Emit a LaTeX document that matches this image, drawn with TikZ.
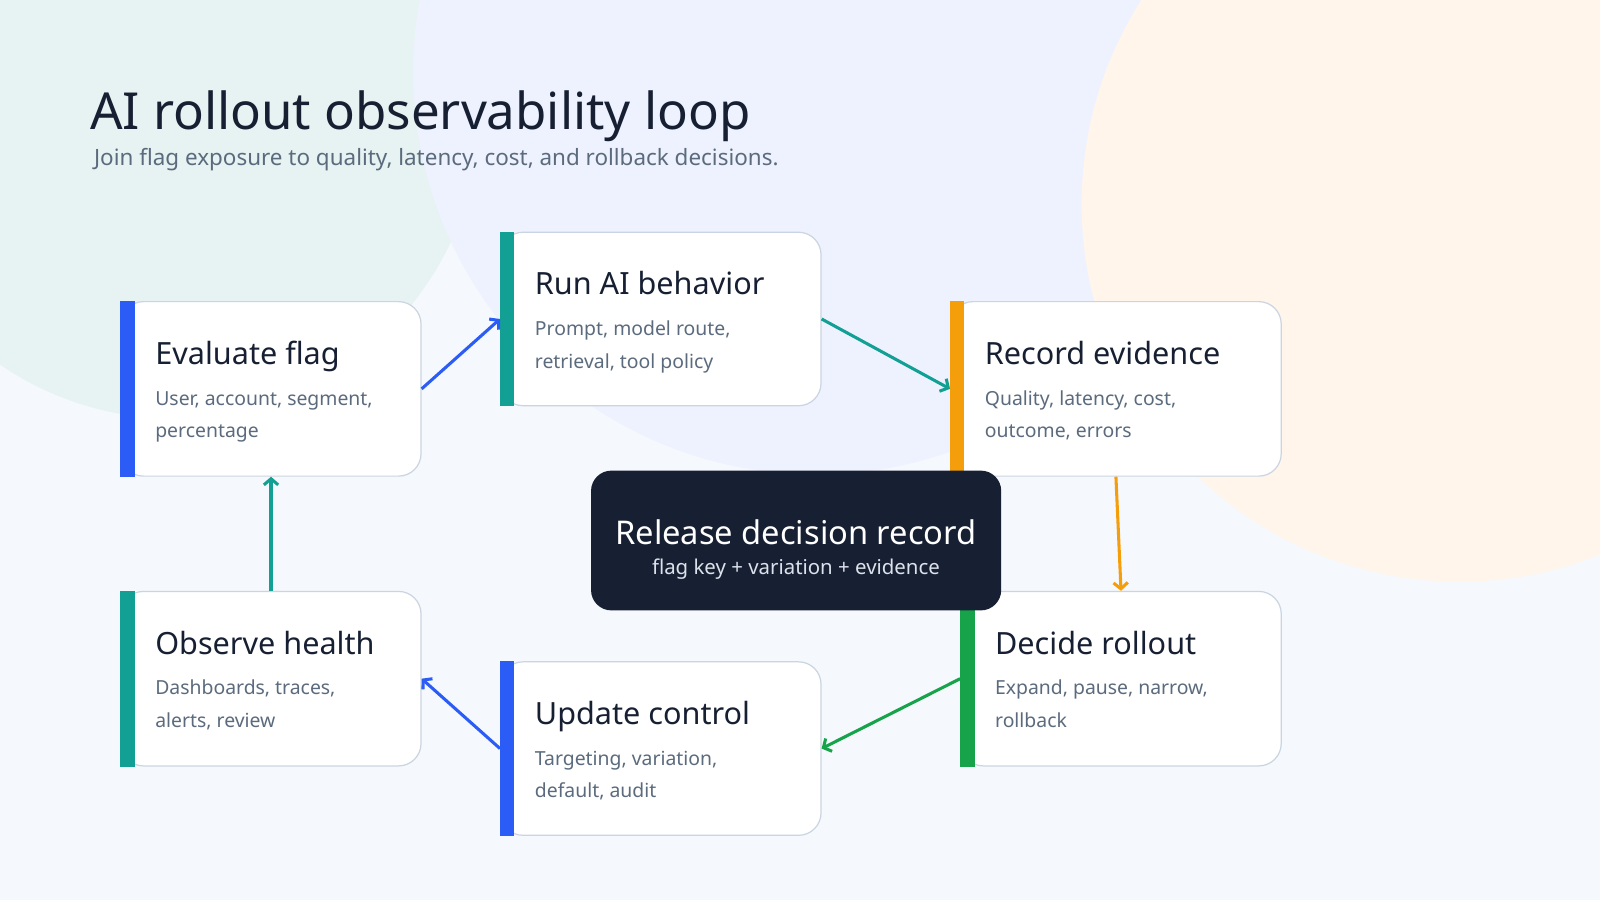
\documentclass[tikz,border=0pt]{standalone}
\usepackage{fontspec}
\setmainfont{Noto Sans}
\usetikzlibrary{positioning, arrows.meta}
\definecolor{inkdark}{HTML}{172033}
\definecolor{inkgray}{HTML}{5B6B7D}
\definecolor{edgegray}{HTML}{CBD5E1}
\definecolor{cblue}{HTML}{2B5CF6}
\definecolor{cteal}{HTML}{12A094}
\definecolor{corange}{HTML}{F59E0B}
\definecolor{cgreen}{HTML}{16A34A}
\definecolor{pagebg}{HTML}{F5F8FC}
\definecolor{blobteal}{HTML}{E7F3F2}
\definecolor{blobblue}{HTML}{EEF2FE}
\definecolor{blobpeach}{HTML}{FFF5EB}
\definecolor{softtext}{HTML}{DCE2EB}
\tikzset{
  card/.style = {draw=edgegray, line width=1.2pt, fill=white, rounded corners=22pt, inner sep=0pt},
  ctitle/.style = {anchor=base west, inner sep=0pt, text=inkdark, font=\fontsize{30}{34}\selectfont\bfseries},
  cbody/.style = {anchor=base west, inner sep=0pt, text=inkgray, font=\fontsize{19}{22}\selectfont},
  link/.style = {line width=3pt, -{Straight Barb[length=6pt,width=14pt]}}
}
% card: name, x, y, width, height, colour, title, line 1, line 2
\newcommand{\flowcard}[9]{%
  \node[card, minimum width=#4pt, minimum height=#5pt, anchor=north west] (#1) at (#2,#3) {};
  \fill[#6] (#1.north west) rectangle ([xshift=14pt]#1.south west);
  \node[ctitle] at (#2+34,#3+62) {#7};
  \node[cbody] at (#2+34,#3+102) {#8};
  \node[cbody] at (#2+34,#3+134) {#9};
}
\begin{document}
\begin{tikzpicture}[x=1pt, y=-1pt]
  \fill[pagebg] (0,0) rectangle (1568,882);
  \useasboundingbox (0,0) rectangle (1568,882);
  \begin{scope}
    \clip (0,0) rectangle (1568,882);
    \fill[blobteal] (170,110) circle (300);
    \fill[blobblue] (800,70) circle (395);
    \fill[blobpeach] (1430,200) circle (370);
  \end{scope}

  \node[anchor=base west, inner sep=0pt, text=inkdark, font=\fontsize{50}{56}\selectfont\bfseries] (title) at (88,127) {AI rollout observability loop};
  \node[anchor=base west, inner sep=0pt, text=inkgray, font=\fontsize{22}{26}\selectfont] (subtitle) at (92,162) {Join flag exposure to quality, latency, cost, and rollback decisions.};

  \flowcard{eval}{118}{295}{294}{171}{cblue}{Evaluate flag}{User, account, segment,}{percentage}
  \flowcard{run}{490}{227}{314}{170}{cteal}{Run AI behavior}{Prompt, model route,}{retrieval, tool policy}
  \flowcard{rec}{931}{295}{324}{171}{corange}{Record evidence}{Quality, latency, cost,}{outcome, errors}
  \flowcard{dec}{941}{579}{314}{171}{cgreen}{Decide rollout}{Expand, pause, narrow,}{rollback}
  \flowcard{upd}{490}{648}{314}{170}{cblue}{Update control}{Targeting, variation,}{default, audit}
  \flowcard{obs}{118}{579}{294}{171}{cteal}{Observe health}{Dashboards, traces,}{alerts, review}

  \node[fill=inkdark, rounded corners=20pt, minimum width=402pt, minimum height=137pt, anchor=north west, inner sep=0pt] (core) at (579,461) {};
  \node[text=white, font=\fontsize{32}{36}\selectfont\bfseries, inner sep=0pt] (coretitle) at (780,522) {Release decision record};
  \node[text=softtext, font=\fontsize{20}{24}\selectfont, inner sep=0pt] (coresub) at (780,558) {flag key + variation + evidence};

  \draw[link, cblue] (eval.east) -- (run.west);
  \draw[link, cteal] (run.east) -- (rec.west);
  \draw[link, corange] (rec.south) -- (dec.north);
  \draw[link, cgreen] (dec.west) -- (upd.east);
  \draw[link, cblue] (upd.west) -- (obs.east);
  \draw[link, cteal] (obs.north) -- (eval.south);
\end{tikzpicture}
\end{document}
